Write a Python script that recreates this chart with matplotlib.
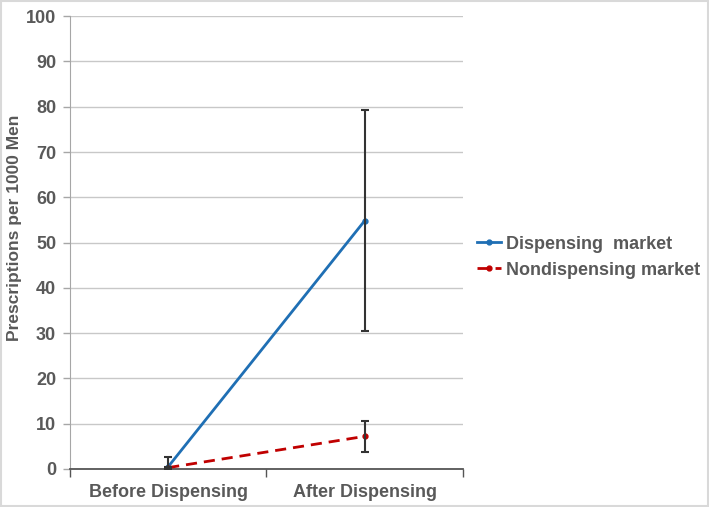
import matplotlib
matplotlib.use("Agg")
import matplotlib.pyplot as plt
import matplotlib.patches as mpatches

# ── Data ──────────────────────────────────────────────────────────────
periods = ["Before Dispensing", "After Dispensing"]
disp_vals = [0.5, 54.8]
disp_err = [2.1, 24.4]
nondisp_vals = [0.3, 7.2]
nondisp_err = [0.2, 3.5]

GRAY = "#595959"
BLUE = "#1f6fb4"
RED = "#c00000"

plt.rcParams["font.family"] = ["Liberation Sans", "DejaVu Sans"]
plt.rcParams["font.weight"] = "bold"

fig = plt.figure(figsize=(7.09, 5.07), dpi=100)
ax = fig.add_axes([0.0987, 0.075, 0.554, 0.893])

x = list(range(len(periods)))

ax.plot(x, disp_vals, color=BLUE, lw=2, marker="o", ms=3.5,
        label="Dispensing  market", zorder=3)
ax.plot(x, nondisp_vals, color=RED, lw=2, ls=(0, (4, 2.5)), marker="o", ms=3.5,
        label="Nondispensing market", zorder=3)
ax.errorbar(x, disp_vals, yerr=disp_err, fmt="none", ecolor="#333333",
            elinewidth=1.5, capsize=3, capthick=1.5, zorder=4)
ax.errorbar(x, nondisp_vals, yerr=nondisp_err, fmt="none", ecolor="#333333",
            elinewidth=1.5, capsize=3, capthick=1.5, zorder=4)

# ── Axes styling ──────────────────────────────────────────────────────
ax.set_xlim(-0.5, len(periods) - 0.5)
ax.set_ylim(0, 100)
ax.set_yticks(range(0, 101, 10))
ax.yaxis.grid(True, color="#c8c8c8", lw=1)
ax.set_axisbelow(True)

ax.set_xticks(x)
ax.set_xticklabels(periods, fontsize=13, color=GRAY, fontweight="bold")
ax.set_xticks([-0.5, 0.5, 1.5], minor=True)
ax.tick_params(axis="x", which="major", length=0, pad=11)
ax.tick_params(axis="x", which="minor", length=6, width=1, color="#555555")
ax.tick_params(axis="y", length=5, width=1, color="#a6a6a6",
               labelsize=13, labelcolor=GRAY, pad=5)
for lab in ax.get_yticklabels():
    lab.set_fontweight("bold")

for s in ["top", "right"]:
    ax.spines[s].set_visible(False)
ax.spines["left"].set_color("#a6a6a6")
ax.spines["bottom"].set_color("#555555")
ax.spines["bottom"].set_linewidth(1.3)

ax.set_ylabel("Prescriptions per 1000 Men", fontsize=12.5, color=GRAY,
              fontweight="bold")
ax.yaxis.set_label_coords(-0.122, 0.533)

leg = ax.legend(loc="center left", bbox_to_anchor=(0.995, 0.468), frameon=False,
                fontsize=13, handlelength=1.3, handletextpad=0.3,
                labelspacing=0.5)
for t in leg.get_texts():
    t.set_color(GRAY)
    t.set_fontweight("bold")

# light frame around the figure
fig.patches.append(mpatches.Rectangle((0.001, 0.002), 0.998, 0.996,
                                      transform=fig.transFigure, fill=False,
                                      edgecolor="#d9d9d9", lw=1.5))

fig.savefig("out.png", dpi=100)
